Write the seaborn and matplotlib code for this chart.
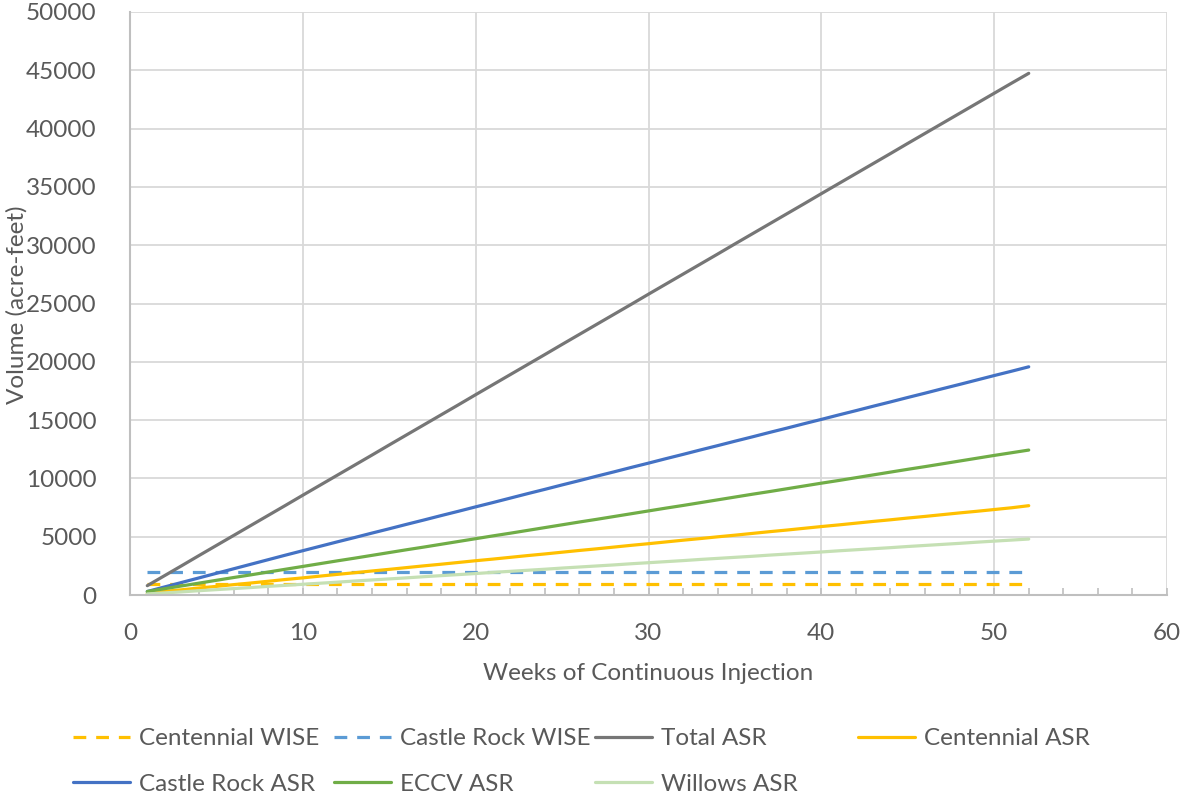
import matplotlib
matplotlib.use("Agg")
import matplotlib.pyplot as plt
import seaborn as sns
import pandas as pd
from matplotlib.ticker import MultipleLocator

# Weekly cumulative injected volume (acre-feet)
weeks = list(range(1, 53))

centennial_wise = [920] * 52
castle_rock_wise = [1950] * 52

total_asr = [800, 1660, 2520, 3390, 4250, 5110, 5970, 6830, 7690, 8560,
             9420, 10280, 11140, 12000, 12870, 13730, 14590, 15450, 16310, 17180,
             18040, 18900, 19760, 20620, 21490, 22350, 23210, 24070, 24930, 25800,
             26660, 27520, 28380, 29240, 30110, 30970, 31830, 32690, 33550, 34420,
             35280, 36140, 37000, 37860, 38730, 39590, 40450, 41310, 42170, 43030,
             43890, 44740]

centennial_asr = [150, 310, 450, 600, 740, 890, 1030, 1180, 1330, 1470,
                  1620, 1770, 1910, 2060, 2200, 2350, 2500, 2640, 2790, 2940,
                  3080, 3230, 3380, 3520, 3670, 3820, 3960, 4110, 4260, 4400,
                  4550, 4700, 4840, 4990, 5130, 5280, 5430, 5570, 5720, 5870,
                  6010, 6160, 6310, 6450, 6600, 6740, 6890, 7040, 7180, 7330,
                  7480, 7660]

castle_rock_asr = [300, 690, 1080, 1470, 1860, 2250, 2640, 3030, 3420, 3800,
                   4180, 4560, 4930, 5310, 5680, 6060, 6430, 6810, 7180, 7560,
                   7930, 8310, 8690, 9060, 9440, 9810, 10190, 10560, 10940, 11310,
                   11690, 12060, 12440, 12810, 13190, 13560, 13940, 14310, 14690, 15060,
                   15440, 15810, 16190, 16560, 16940, 17310, 17690, 18060, 18440, 18820,
                   19190, 19570]

eccv_asr = [300, 540, 780, 1020, 1260, 1500, 1730, 1970, 2210, 2450,
            2690, 2930, 3160, 3400, 3640, 3880, 4110, 4350, 4590, 4830,
            5070, 5300, 5540, 5780, 6020, 6260, 6490, 6730, 6970, 7210,
            7450, 7680, 7920, 8160, 8400, 8640, 8870, 9110, 9350, 9590,
            9820, 10060, 10300, 10540, 10780, 11010, 11250, 11490, 11730, 11970,
            12200, 12430]

willows_asr = [90, 180, 270, 370, 460, 550, 640, 740, 830, 920,
               1010, 1100, 1200, 1290, 1380, 1470, 1570, 1660, 1750, 1840,
               1940, 2030, 2120, 2210, 2310, 2400, 2490, 2580, 2680, 2770,
               2860, 2950, 3050, 3140, 3230, 3320, 3420, 3510, 3600, 3690,
               3790, 3880, 3970, 4060, 4160, 4250, 4340, 4430, 4530, 4620,
               4710, 4800]

series_names = ["Centennial WISE", "Castle Rock WISE", "Total ASR", "Centennial ASR",
                "Castle Rock ASR", "ECCV ASR", "Willows ASR"]
series_values = [centennial_wise, castle_rock_wise, total_asr, centennial_asr,
                 castle_rock_asr, eccv_asr, willows_asr]
series_colors = ["#FFC000", "#5B9BD5", "#767676", "#FFC000",
                 "#4472C4", "#70AD47", "#C5E0B4"]
series_dashed = [True, True, False, False, False, False, False]

sns.set_theme(style="white")
plt.rcParams["font.family"] = ["Lato", "DejaVu Sans"]

TEXT = "#595959"
GRID = "#D9D9D9"
AXIS = "#BFBFBF"
FS = 17.5

fig = plt.figure(figsize=(11.83, 7.99), dpi=100)
ax = fig.add_axes([130 / 1183, 1 - 595 / 799, (1167 - 130) / 1183, (595 - 12) / 799])

handles = {}
for name, vals, col, dashed in zip(series_names, series_values, series_colors, series_dashed):
    df = pd.DataFrame({"week": weeks, "volume": vals})
    sns.lineplot(data=df, x="week", y="volume", ax=ax, color=col,
                 linewidth=2.3, legend=False, errorbar=None)
    line = ax.lines[-1]
    line.set_solid_capstyle("round")
    if dashed:
        line.set_dashes((4.0, 3.1))
    handles[name] = line

ax.set_xlim(0, 60)
ax.set_ylim(0, 50000)
ax.xaxis.set_major_locator(MultipleLocator(10))
ax.xaxis.set_minor_locator(MultipleLocator(2))
ax.yaxis.set_major_locator(MultipleLocator(5000))

ax.grid(True, which="major", color=GRID, linewidth=1.3)
ax.set_axisbelow(True)
for s in ["top", "right"]:
    ax.spines[s].set_visible(False)
for s in ["left", "bottom"]:
    ax.spines[s].set_color(AXIS)
    ax.spines[s].set_linewidth(1.5)

ax.tick_params(axis="x", which="both", direction="in", length=5, width=1.2,
               color=AXIS, labelsize=FS, labelcolor=TEXT, pad=20, bottom=True)
ax.tick_params(axis="y", which="both", length=0, labelsize=FS, labelcolor=TEXT, pad=24)

ax.set_xlabel("Weeks of Continuous Injection", fontsize=FS, color=TEXT, labelpad=14)
ax.set_ylabel("Volume (acre-feet)", fontsize=FS, color=TEXT)
ax.yaxis.set_label_coords(-0.099, 0.497)

# Legend laid out as equal-width columns below the plot
columns = [["Centennial WISE", "Castle Rock ASR"],
           ["Castle Rock WISE", "ECCV ASR"],
           ["Total ASR", "Willows ASR"],
           ["Centennial ASR"]]
col_x = [73, 334, 595, 858]
for names, x0 in zip(columns, col_x):
    fig.legend([handles[n] for n in names], names,
               loc="upper left", bbox_to_anchor=(x0 / 1183, 1 - 728 / 799),
               frameon=False, fontsize=FS, labelcolor=TEXT,
               handlelength=2.35, handletextpad=0.35, labelspacing=1.02,
               borderaxespad=0, borderpad=0)

fig.savefig("out.png", dpi=100, facecolor="white")
